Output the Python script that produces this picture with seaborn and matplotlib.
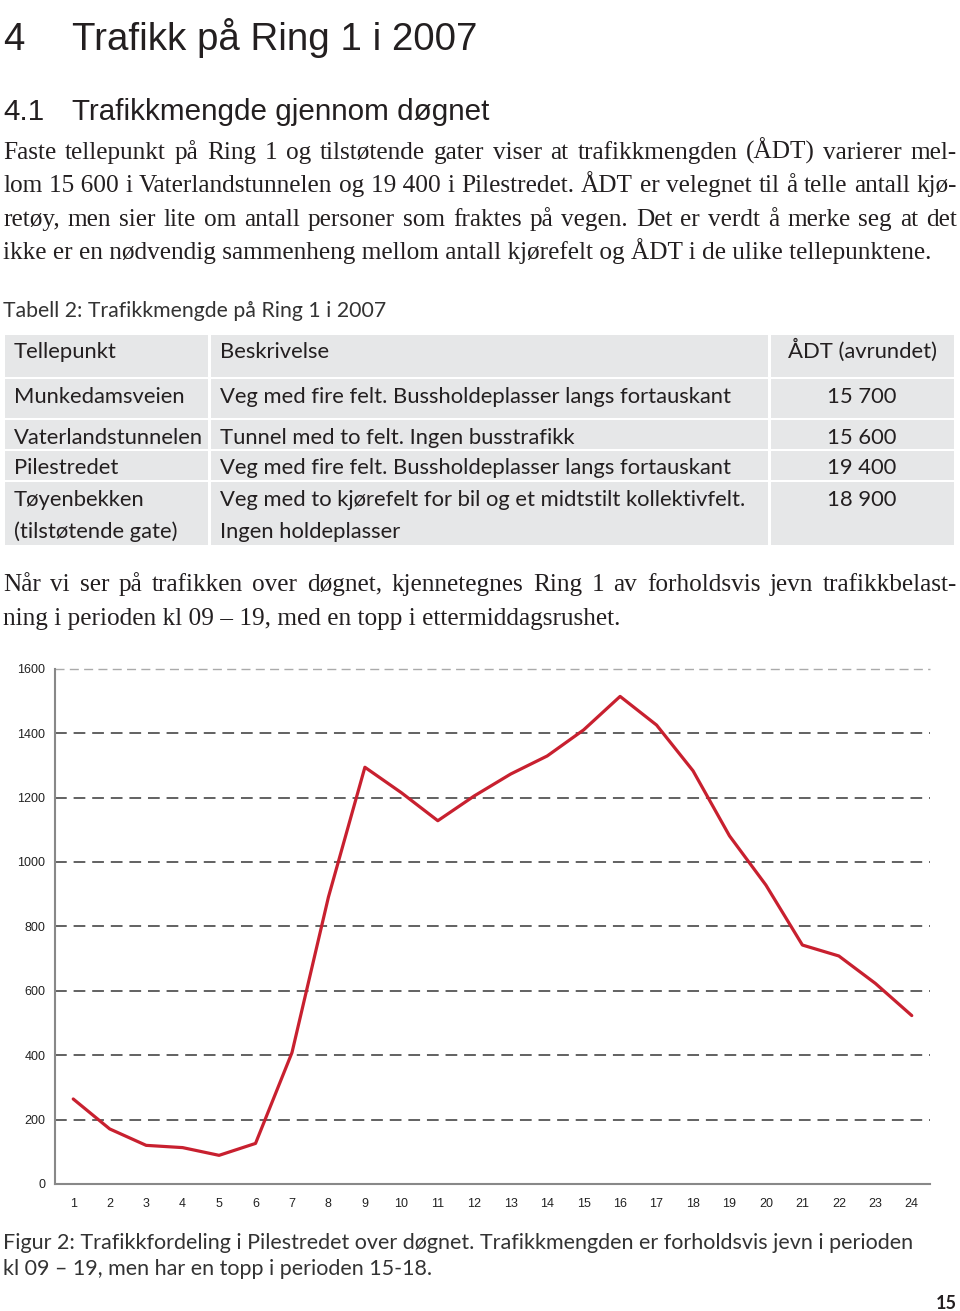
import numpy as np
import pandas as pd
import matplotlib
matplotlib.use("Agg")
import matplotlib.pyplot as plt
import seaborn as sns
from matplotlib.patches import Rectangle

# ---------------- data ----------------
hours = list(range(1, 25))
vehicles = [264, 171, 120, 113, 89, 126, 408, 891, 1294, 1215, 1128, 1205,
            1273, 1329, 1410, 1514, 1425, 1283, 1081, 928, 742, 708, 623, 523]
y_ticks = [0, 200, 400, 600, 800, 1000, 1200, 1400, 1600]
x_labels = [str(h) for h in hours]

table_header = ["Tellepunkt", "Beskrivelse", "ÅDT (avrundet)"]
tellepunkt = ["Munkedamsveien", "Vaterlandstunnelen", "Pilestredet",
              "Tøyenbekken", "(tilstøtende gate)"]
beskrivelse = ["Veg med fire felt. Bussholdeplasser langs fortauskant",
               "Tunnel med to felt. Ingen busstrafikk",
               "Veg med fire felt. Bussholdeplasser langs fortauskant",
               "Veg med to kjørefelt for bil og et midtstilt kollektivfelt.",
               "Ingen holdeplasser"]
aadt = ["15 700", "15 600", "19 400", "18 900", ""]

title_num = "4"
title_text = "Trafikk på Ring 1 i 2007"
sub_num = "4.1"
sub_text = "Trafikkmengde gjennom døgnet"
para1 = ["Faste tellepunkt på Ring 1 og tilstøtende gater viser at trafikkmengden (ÅDT) varierer mel-",
         "lom 15\u00a0600 i Vaterlandstunnelen og 19\u00a0400 i Pilestredet. ÅDT er velegnet til å telle antall kjø-",
         "retøy, men sier lite om antall personer som fraktes på vegen. Det er verdt å merke seg at det",
         "ikke er en nødvendig sammenheng mellom antall kjørefelt og ÅDT i de ulike tellepunktene."]
para2 = ["Når vi ser på trafikken over døgnet, kjennetegnes Ring 1 av forholdsvis jevn trafikkbelast-",
         "ning i perioden kl 09 – 19, med en topp i ettermiddagsrushet."]
table_caption = "Tabell 2: Trafikkmengde på Ring 1 i 2007"
fig_caption = ["Figur 2: Trafikkfordeling i Pilestredet over døgnet. Trafikkmengden er forholdsvis jevn i perioden",
               "kl 09 – 19, men har en topp i perioden 15-18."]
page_no = "15"

# ---------------- setup ----------------
sns.set_style("white")
plt.rcParams["font.family"] = ["Liberation Sans", "DejaVu Sans"]

W, H = 960, 1311
INK = "#231f20"
fig = plt.figure(figsize=(W / 100, H / 100), dpi=100)
fig.patch.set_facecolor("white")
r = fig.canvas.get_renderer()

HEAD = ["Liberation Sans", "DejaVu Sans"]
SERIF = ["Liberation Serif", "DejaVu Serif"]
DIN = ["Lato", "DejaVu Sans"]


def fy(y):
    return 1 - y / H


def width_of(t):
    return t.get_window_extent(renderer=r).width


def put(x, y, s, family, size, width=None, maxsize=None, ha="left", color=INK, **kw):
    t = fig.text(x / W, fy(y), s, fontsize=size, family=family, ha=ha,
                 va="baseline", color=color, **kw)
    if width:
        ns = size * width / width_of(t)
        if maxsize:
            ns = min(ns, maxsize)
        t.set_fontsize(ns)
    return t


def natural(line, family, size):
    t = fig.text(0, 0, line.replace("\u00a0", " "), fontsize=size, family=family)
    w = width_of(t)
    t.remove()
    return w


def justify(x0, x1, y, line, family, size):
    words = line.split(" ")
    ts = [fig.text(0, fy(y), w.replace("\u00a0", " "), fontsize=size,
                   family=family, va="baseline", color=INK) for w in words]
    ws = [width_of(t) for t in ts]
    gap = (x1 - x0 - sum(ws)) / (len(ws) - 1)
    x = x0
    for t, w in zip(ts, ws):
        t.set_x(x / W)
        x += w + gap


# ---------------- headings ----------------
t1 = put(72, 50, title_text, HEAD, 40, width=405, maxsize=46, weight="light")
put(3, 50, title_num, HEAD, t1.get_fontsize())
t2 = put(72, 120, sub_text, HEAD, 30, width=416, maxsize=34)
put(3, 120, sub_num, HEAD, t2.get_fontsize())

# ---------------- body paragraph 1 ----------------
s0 = 19.0
size_body = min(s0 * 950 / natural(l, SERIF, s0) for l in para1[:3])
size_body = min(size_body, 20.0)
for i, line in enumerate(para1[:3]):
    justify(3, 957, 159 + i * 33.3, line, SERIF, size_body)
last = put(3, 159 + 3 * 33.3, para1[3], SERIF, size_body)
if width_of(last) > 954:
    last.remove()
    justify(3, 955, 159 + 3 * 33.3, para1[3], SERIF, size_body)

# ---------------- table ----------------
put(3, 317, table_caption, DIN, 15, width=382, color="#333333")
rows = [(335, 377), (379, 418), (420, 449), (451, 480), (482, 545)]
cols = [(5, 208), (211, 768), (771, 954)]
for (y0, y1) in rows:
    for (x0, x1) in cols:
        fig.add_artist(Rectangle((x0 / W, fy(y1)), (x1 - x0) / W, (y1 - y0) / H,
                                 transform=fig.transFigure, facecolor="#e6e7e8",
                                 edgecolor="none", zorder=0))
tsize = 14
tt = fig.text(0, 0, beskrivelse[0], fontsize=tsize, family=DIN)
tsize = tsize * 513 / width_of(tt)
tt.remove()
put(14, 358, table_header[0], DIN, tsize)
put(220, 358, table_header[1], DIN, tsize)
put(862, 358, table_header[2], DIN, tsize, ha="center")
base = [402.5, 444, 474.5, 506.5, 538.5]
for b, a, c, d in zip(base, tellepunkt, beskrivelse, aadt):
    put(14, b, a, DIN, tsize)
    put(220, b, c, DIN, tsize)
    if d:
        put(862, b, d, DIN, tsize, ha="center")

# ---------------- body paragraph 2 ----------------
s2 = min(size_body, s0 * 948 / natural(para2[0], SERIF, s0))
justify(3, 957, 591, para2[0], SERIF, s2)
put(3, 625, para2[1], SERIF, s2, width=654, maxsize=size_body)

# ---------------- chart ----------------
ax = fig.add_axes([55 / W, 1 - 1184 / H, 875 / W, 515.3 / H])
df = pd.DataFrame({"Time": hours, "Kjøretøy": vehicles})
ax.set_axisbelow(True)
sns.lineplot(data=df, x="Time", y="Kjøretøy", ax=ax, color="#c8202f",
             linewidth=2.3, zorder=3)
ax.set_xlim(0.5, 24.5)
ax.set_ylim(0, 1600)
ax.set_yticks(y_ticks)
ax.set_yticklabels([str(v) for v in y_ticks])
ax.set_xticks(hours)
ax.set_xticklabels(x_labels)
ax.set_xticks(np.arange(0.5, 25, 1), minor=True)
ax.tick_params(axis="x", which="major", length=0, pad=10, labelsize=9,
               labelcolor="#222222")
ax.tick_params(axis="x", which="minor", length=3, width=1, color="#999999",
               direction="out")
ax.tick_params(axis="y", length=0, pad=7, labelsize=9, labelcolor="#222222")
ax.set_xlabel("")
ax.set_ylabel("")
ax.yaxis.grid(True, linestyle=(0, (6.5, 3.8)), color="#555555", linewidth=1.3)
ax.xaxis.grid(False)
for v, gl in zip(y_ticks, ax.get_ygridlines()):
    if v == 0:
        gl.set_visible(False)
    elif v == 1600:
        gl.set_color("#aaaaaa")
        gl.set_linewidth(1.0)
        gl.set_clip_on(False)
sns.despine(ax=ax)
for sp in ("left", "bottom"):
    ax.spines[sp].set_color("#888888")
    ax.spines[sp].set_linewidth(1.5)

# ---------------- figure caption ----------------
cap = put(3, 1249, fig_caption[0], DIN, 15, width=907, color="#333333")
put(3, 1275, fig_caption[1], DIN, cap.get_fontsize(), color="#333333")
put(957, 1309, page_no, DIN, 13, ha="right", weight="bold")

fig.savefig("out.png", dpi=100, facecolor="white")
